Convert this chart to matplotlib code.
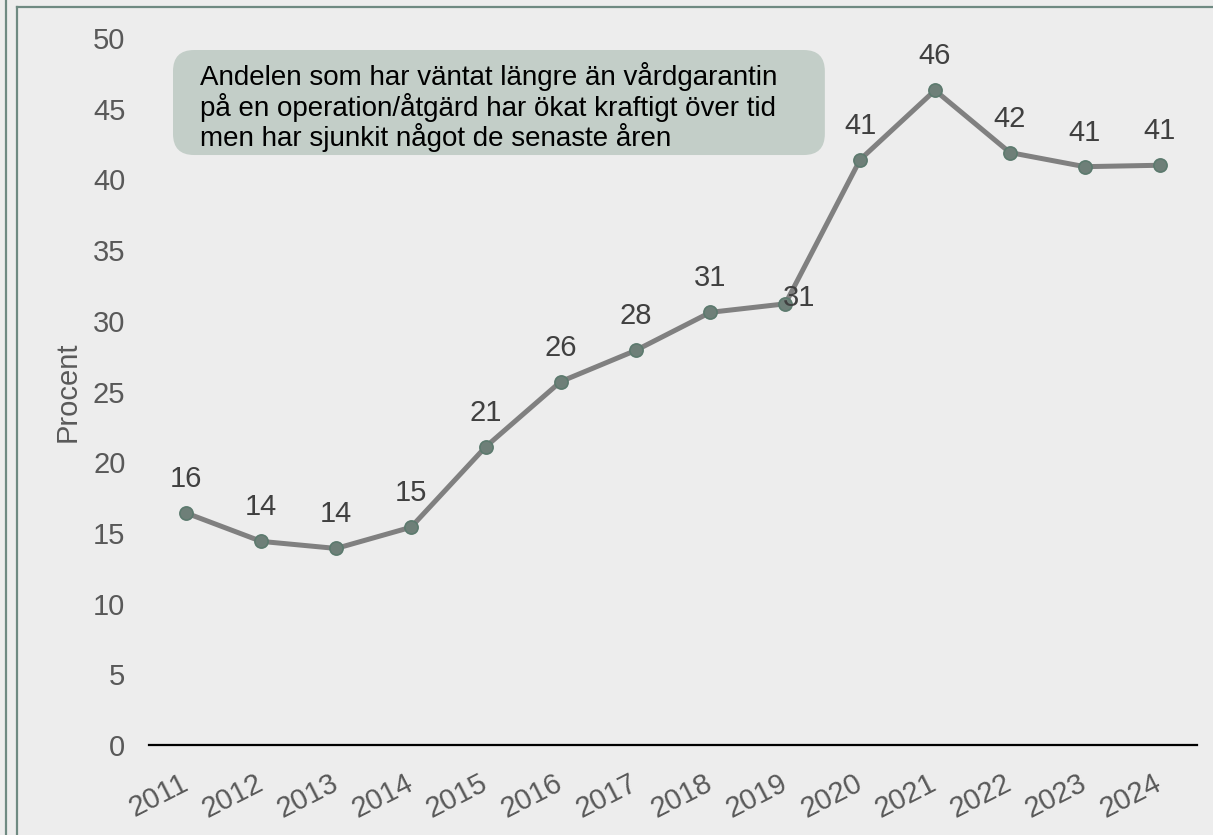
import matplotlib.pyplot as plt
from matplotlib.lines import Line2D
from matplotlib.patches import FancyBboxPatch

# --------------------------------------------------
# Data
# --------------------------------------------------
years = ["2011", "2012", "2013", "2014", "2015", "2016", "2017",
         "2018", "2019", "2020", "2021", "2022", "2023", "2024"]
values = [16.4, 14.4, 13.9, 15.4, 21.1, 25.7, 27.9,
          30.6, 31.2, 41.4, 46.3, 41.9, 40.9, 41.0]
labels = ["16", "14", "14", "15", "21", "26", "28",
          "31", "31", "41", "46", "42", "41", "41"]
y_ticks = [0, 5, 10, 15, 20, 25, 30, 35, 40, 45, 50]
note = ("Andelen som har väntat längre än vårdgarantin\n"
        "på en operation/åtgärd har ökat kraftigt över tid\n"
        "men har sjunkit något de senaste åren")

plt.rcParams['font.family'] = ['Liberation Sans', 'DejaVu Sans']

bg = "#ededed"
text_col = "#595959"
fs = 21
W, H = 1213, 835

fig = plt.figure(figsize=(W / 100, H / 100), dpi=100, facecolor=bg)
ax = fig.add_axes([149 / W, 1 - 745 / H, (1197 - 149) / W, (745 - 38) / H])
ax.set_facecolor(bg)

x = list(range(len(years)))
ax.plot(x, values, color="#808080", linewidth=3.6, marker='o',
        markersize=9.5, markerfacecolor="#6e7f78",
        markeredgecolor="#5c7a6e", markeredgewidth=1.2, zorder=3)

# --------------------------------------------------
# Value labels
# --------------------------------------------------
for i, (v, lab) in enumerate(zip(values, labels)):
    offset = (10, 4.5) if years[i] == "2019" else (0, 24.5)
    ax.annotate(lab, (i, v), xytext=offset, textcoords='offset points',
                ha='center', va='center', fontsize=fs, color="#404040")

# --------------------------------------------------
# Axes
# --------------------------------------------------
ax.set_xlim(-0.5, len(years) - 0.5)
ax.set_ylim(0, 50)
ax.set_yticks(y_ticks)
ax.set_xticks(x)
ax.set_xticklabels(years, rotation=27, ha='right', va='center',
                   rotation_mode='anchor')
ax.tick_params(axis='y', length=0, pad=17, labelsize=fs, labelcolor=text_col)
ax.tick_params(axis='x', length=0, pad=26, labelsize=fs, labelcolor=text_col)
for s in ["top", "right", "left"]:
    ax.spines[s].set_visible(False)
ax.spines["bottom"].set_color("black")
ax.spines["bottom"].set_linewidth(1.6)
ax.set_ylabel("Procent", fontsize=fs, color=text_col, labelpad=8)

# --------------------------------------------------
# Note box
# --------------------------------------------------
box = FancyBboxPatch((0.0229, 0.8345), 0.622, 0.1485,
                     boxstyle="round,pad=0,rounding_size=0.02",
                     transform=ax.transAxes, facecolor="#c3cec8",
                     edgecolor="none", zorder=4, mutation_aspect=1.5)
ax.add_patch(box)
ax.text(0.0487, 0.9024, note, transform=ax.transAxes, ha='left', va='center',
        fontsize=20, color="black", linespacing=1.05, zorder=5)

# --------------------------------------------------
# Panel borders
# --------------------------------------------------
edge = "#6f8a82"
fig.add_artist(Line2D([6 / W, 6 / W], [0, 1], color=edge, lw=1.6,
                      transform=fig.transFigure))
fig.add_artist(Line2D([17 / W, 17 / W], [0, 1 - 7 / H], color=edge, lw=1.6,
                      transform=fig.transFigure))
fig.add_artist(Line2D([17 / W, 1], [1 - 7 / H, 1 - 7 / H], color=edge, lw=1.6,
                      transform=fig.transFigure))

fig.savefig("out.png", dpi=100, facecolor=bg)
